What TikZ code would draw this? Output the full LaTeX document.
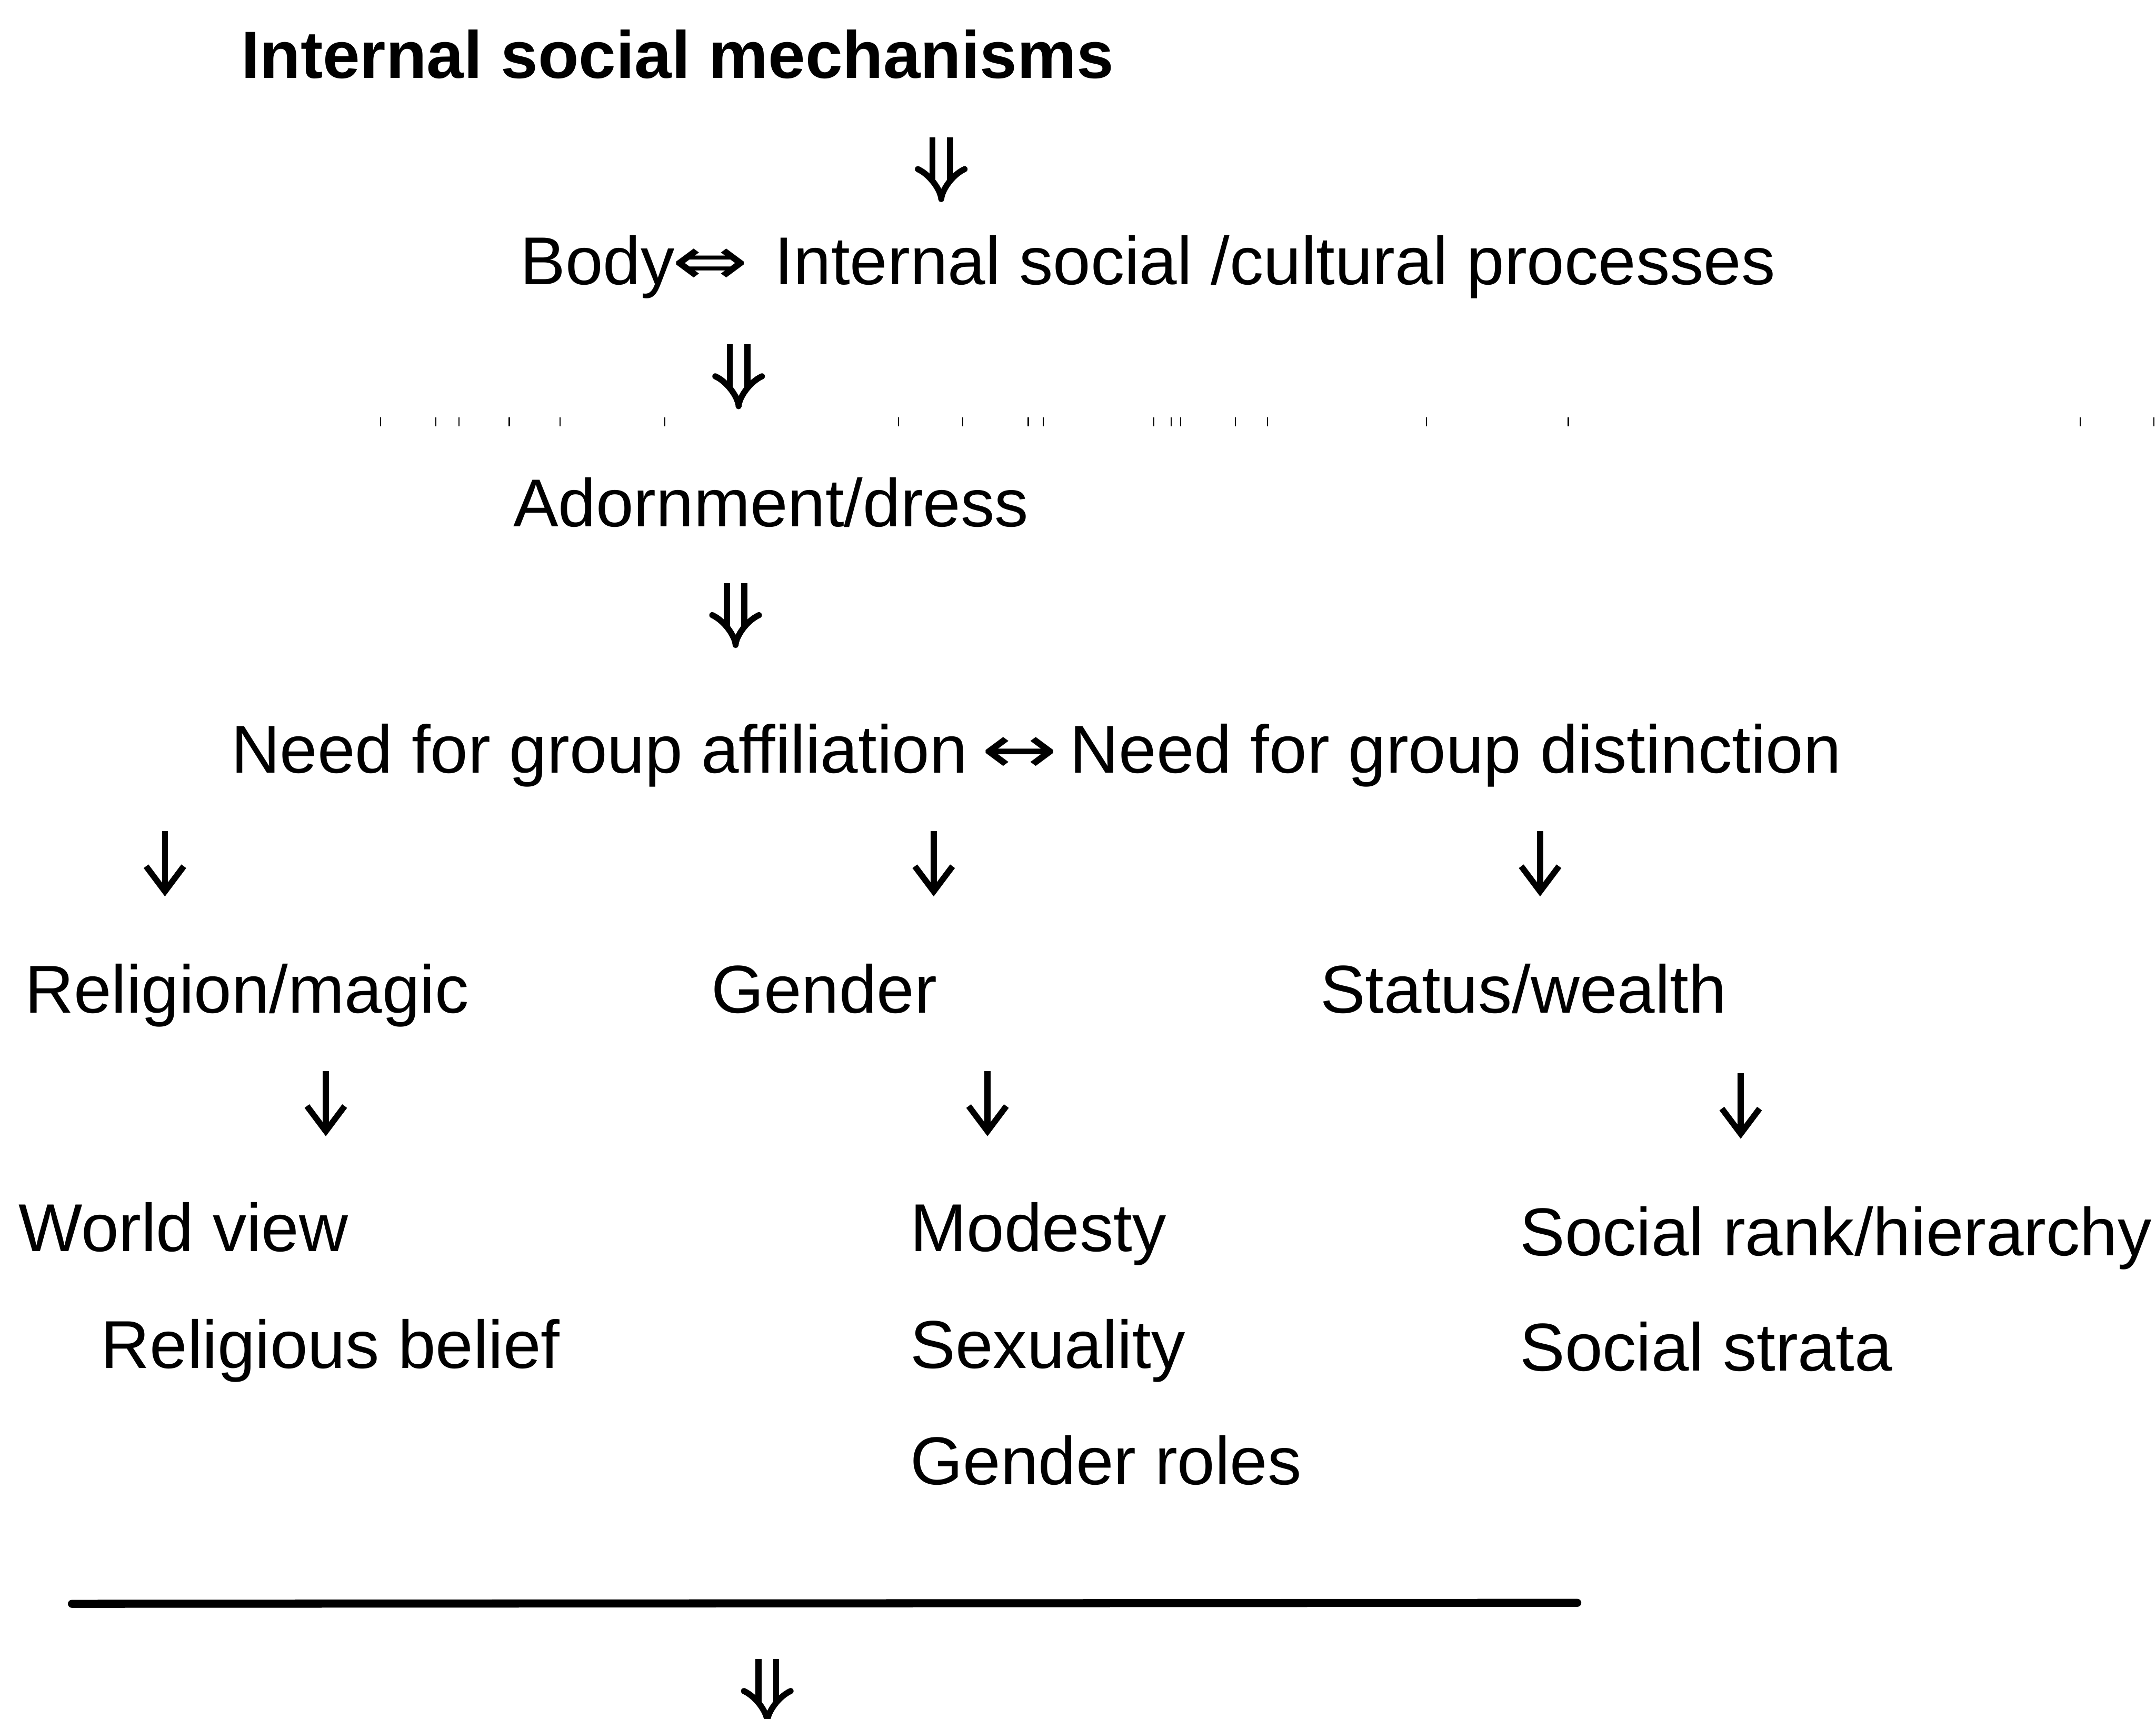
\documentclass[tikz,border=0pt]{standalone}
\usepackage{fontspec}
\usepackage{graphicx}
\setmainfont{Liberation Sans}
\newfontfamily\symfont{DejaVu Sans}
\newcommand{\wide}[1]{\scalebox{1.35}[1]{\symfont #1}}
\usetikzlibrary{arrows.meta}
\tikzset{
    txt/.style={anchor=base west, inner sep=0pt, font=\fontsize{38.3}{46}\selectfont},
    dblarrow/.style={double, line width=0.12cm, double distance=0.23cm, -{Implies}},
    sglarrow/.style={line width=0.12cm, -{Straight Barb[length=0.5cm, width=0.75cm]}},
}
\begin{document}
\begin{tikzpicture}
        \useasboundingbox (0,0) rectangle (42.88,-34.19);
        \node[txt, font=\fontsize{37.8}{46}\selectfont\bfseries] (mech) at (4.79,-1.55) {Internal social mechanisms};
        \node[txt] (body) at (10.34,-5.66) {Body\hspace{-0.05cm}\wide{⇔}\hspace{0.52cm}Internal social /cultural processes};
        \node[txt] (adorn) at (10.20,-10.47) {Adornment/dress};
        \node[txt] (need) at (4.59,-15.37) {Need for group affiliation\hspace{0.28cm}\wide{↔}\hspace{0.24cm}Need for group distinction};
        \node[txt] (relig) at (0.49,-20.15) {Religion/magic};
        \node[txt] (gender) at (14.14,-20.15) {Gender};
        \node[txt] (status) at (26.25,-20.15) {Status/wealth};
        \node[txt] (world) at (0.36,-24.89) {World view};
        \node[txt] (belief) at (2.00,-27.21) {Religious belief};
        \node[txt] (modest) at (18.10,-24.89) {Modesty};
        \node[txt] (sexual) at (18.10,-27.21) {Sexuality};
        \node[txt] (roles) at (18.10,-29.53) {Gender roles};
        \node[txt] (rank) at (30.22,-24.97) {Social rank/hierarchy};
        \node[txt] (strata) at (30.22,-27.27) {Social strata};
        % double arrows
        \foreach \x/\y [count=\i] in {18.72/-2.73, 14.69/-6.85, 14.63/-11.60, 15.26/-33.00}
            {
                \coordinate (dt\i) at (\x,\y);
                \coordinate (db\i) at (\x,\y-1.29);
                \draw[dblarrow] (dt\i)--(db\i);
            }
        % single arrows
        \foreach \x/\y [count=\i] in {3.28/-16.53, 18.57/-16.53, 30.63/-16.53, 6.48/-21.30, 19.64/-21.30, 34.62/-21.35}
            {
                \coordinate (st\i) at (\x,\y);
                \coordinate (sb\i) at (\x,\y-1.30);
                \draw[sglarrow] (st\i)--(sb\i);
            }
        % specks
        \foreach \x in {7.57,8.67,9.13,10.13,11.14,13.22,17.87,19.15,20.45,20.75,22.95,23.29,23.48,24.57,25.21,28.37,31.19,41.37,42.84}
            {
                \draw[line width=0.025cm] (\x,-8.3)--++(0,-0.18);
            }
        \coordinate (rl) at (1.43,-31.90);
        \coordinate (rr) at (31.37,-31.88);
        \draw[line width=0.16cm, line cap=round] (rl)--(rr);
    \end{tikzpicture}
\end{document}
